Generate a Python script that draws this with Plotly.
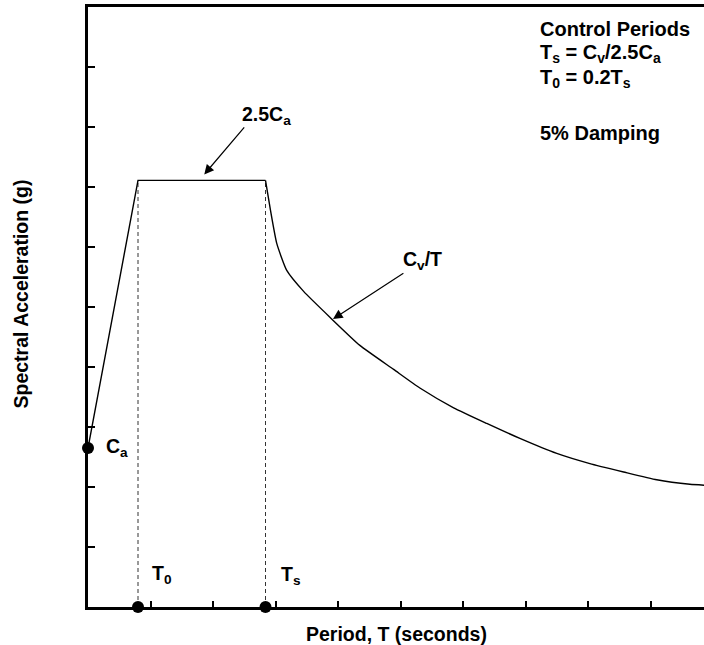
import plotly.graph_objects as go

# ---- data (schematic design response spectrum) ----
# ramp + plateau (straight segments)
ramp_periods = [0.0, 0.80, 2.84]
ramp_accel = [2.65, 7.11, 7.11]
# descending branch (Cv/T)
decay_periods = [2.84, 2.92, 3.02, 3.18, 3.45, 3.87, 4.35, 4.89, 5.31,
                 5.85, 6.38, 6.91, 7.50, 8.03, 8.57, 9.10, 9.63, 9.86]
decay_accel = [7.11, 6.61, 6.06, 5.61, 5.26, 4.83, 4.36, 3.96, 3.65,
               3.32, 3.06, 2.81, 2.56, 2.39, 2.25, 2.12, 2.045, 2.03]

T0 = 0.80
Ts = 2.84
Ca = 2.65
plateau = 7.11

point_x = [0.0, T0, Ts]
point_y = [Ca, 0.0, 0.0]

x_ticks = [1, 2, 3, 4, 5, 6, 7, 8, 9]
y_ticks = [1, 2, 3, 4, 5, 6, 7, 8, 9]

FONT = "Liberation Sans, Arial, sans-serif"

fig = go.Figure()

# dashed control-period lines
for tv in (T0, Ts):
    fig.add_trace(go.Scatter(x=[tv, tv], y=[0, plateau], mode="lines",
                             line=dict(color="#333333", width=1, dash="4px,3px"),
                             showlegend=False, hoverinfo="skip"))

# spectrum: ramp and plateau
fig.add_trace(go.Scatter(x=ramp_periods, y=ramp_accel, mode="lines",
                         line=dict(color="black", width=1.4),
                         showlegend=False))
# spectrum: descending branch
fig.add_trace(go.Scatter(x=decay_periods, y=decay_accel, mode="lines",
                         line=dict(color="black", width=1.4, shape="spline", smoothing=0.5),
                         showlegend=False))

# key points
fig.add_trace(go.Scatter(x=point_x, y=point_y, mode="markers",
                         marker=dict(color="black", size=12),
                         cliponaxis=False, showlegend=False))

def txt(x, y, s, size=19.5, xanchor="left"):
    fig.add_annotation(x=x, y=y, xref="x", yref="y", text=f"<b>{s}</b>",
                       showarrow=False, xanchor=xanchor, yanchor="middle",
                       font=dict(family=FONT, size=size, color="black"))

def arrow(x_tail, y_tail, x_tip, y_tip):
    fig.add_annotation(x=x_tip, y=y_tip, ax=x_tail, ay=y_tail,
                       xref="x", yref="y", axref="x", ayref="y",
                       text="", showarrow=True, arrowhead=2, arrowsize=1.6,
                       arrowwidth=1.2, arrowcolor="black")

txt(2.43, 8.19, "2.5C<sub>a</sub>")
arrow(2.52, 8.02, 1.86, 7.21)
txt(5.01, 5.78, "C<sub>v</sub>/T")
arrow(5.07, 5.58, 3.92, 4.80)
txt(0.26, 2.66, "C<sub>a</sub>")
txt(0.99, 0.55, "T<sub>0</sub>")
txt(3.06, 0.53, "T<sub>s</sub>")

txt(7.2, 9.63, "Control Periods", size=20)
txt(7.2, 9.23, "T<sub>s</sub> = C<sub>v</sub>/2.5C<sub>a</sub>", size=20)
txt(7.2, 8.81, "T<sub>0</sub> = 0.2T<sub>s</sub>", size=20)
txt(7.2, 7.90, "5% Damping", size=20)

# axis titles
fig.add_annotation(x=0.5, y=0, xref="paper", yref="paper", yshift=-26.5,
                   text="<b>Period, T (seconds)</b>", showarrow=False,
                   xanchor="center", yanchor="middle",
                   font=dict(family=FONT, size=19.5, color="black"))
fig.add_annotation(x=0, y=0.5, xref="paper", yref="paper", xshift=-67.5, yshift=13,
                   text="<b>Spectral Acceleration (g)</b>", showarrow=False,
                   textangle=-90, xanchor="center", yanchor="middle",
                   font=dict(family=FONT, size=19.5, color="black"))

fig.update_xaxes(range=[0, 9.856], showgrid=False, zeroline=False,
                 showline=True, linecolor="black", linewidth=3, mirror=True,
                 ticks="inside", tickvals=x_ticks, ticklen=6, tickwidth=2,
                 tickcolor="black", showticklabels=False)
fig.update_yaxes(range=[0, 10], showgrid=False, zeroline=False,
                 showline=True, linecolor="black", linewidth=3,
                 ticks="inside", tickvals=y_ticks, ticklen=7, tickwidth=2,
                 tickcolor="black", showticklabels=False)

fig.update_layout(width=704, height=645, autosize=False,
                  margin=dict(l=88, r=0, t=7, b=38),
                  plot_bgcolor="white", paper_bgcolor="white",
                  font=dict(family=FONT, color="black"))

fig.write_html("out.html")
